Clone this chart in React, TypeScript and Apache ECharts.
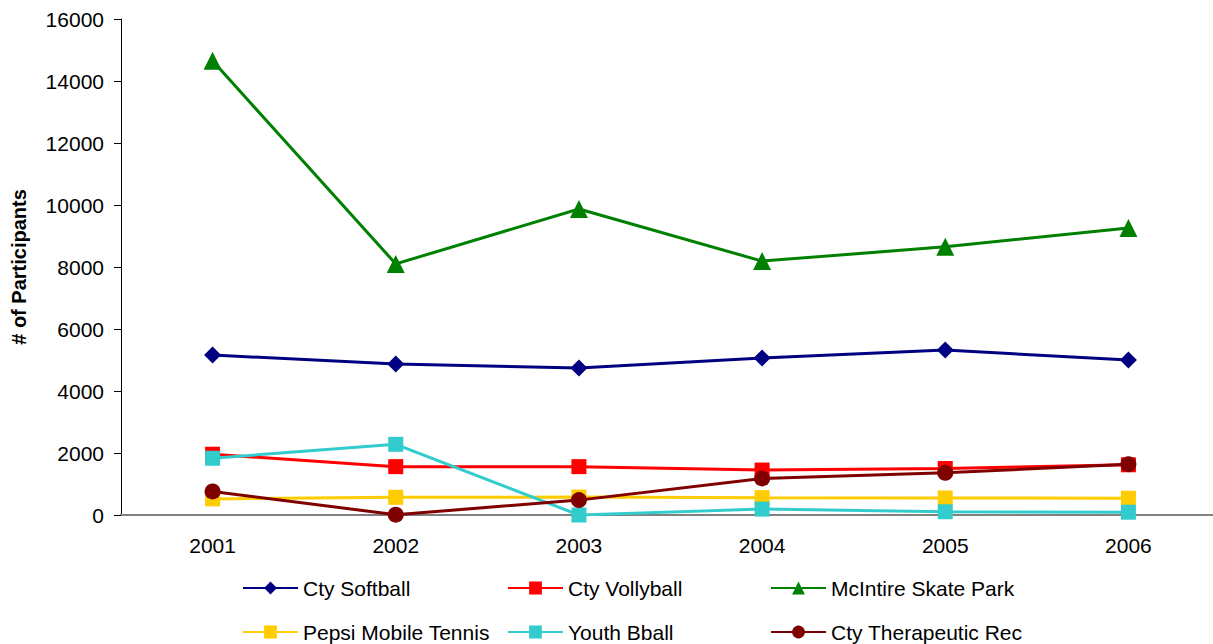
import React, { useEffect, useRef } from "react";
import * as echarts from "echarts";

const years = ["2001", "2002", "2003", "2004", "2005", "2006"];
const softball = [5160, 4870, 4740, 5065, 5320, 5000];
const volleyball = [1960, 1560, 1560, 1450, 1500, 1620];
const skatePark = [14650, 8100, 9870, 8190, 8650, 9260];
const pepsiTennis = [520, 570, 580, 560, 550, 540];
const youthBball = [1830, 2280, 0, 190, 105, 90];
const therapeutic = [760, 10, 480, 1180, 1360, 1640];

const names = [
  "Cty Softball",
  "Cty Vollyball",
  "McIntire Skate Park",
  "Pepsi Mobile Tennis",
  "Youth Bball",
  "Cty Therapeutic Rec",
];
const colors = ["#000080", "#FF0000", "#008000", "#FFCC00", "#33CCCC", "#800000"];
const symbols = ["diamond", "rect", "triangle", "rect", "rect", "circle"];
const sizes = [17, 15, 18, 15, 15, 16];
const dataSets = [softball, volleyball, skatePark, pepsiTennis, youthBball, therapeutic];

export default function App() {
  const ref = useRef<HTMLDivElement>(null);
  useEffect(() => {
    if (!ref.current) return;
    const chart = echarts.init(ref.current, null, { renderer: "svg" });
    const font = "Liberation Sans, Arial, sans-serif";
    const legendBase = (left: number, data: string[]) => ({
      orient: "vertical",
      left,
      top: 577,
      itemWidth: 55,
      itemHeight: 16,
      itemGap: 22,
      textStyle: { fontSize: 21, fontFamily: font, color: "#000", lineHeight: 22, padding: [0, 0, 0, 0] },
      data,
      padding: 0,
    });
    chart.setOption({
      animation: false,
      backgroundColor: "#fff",
      grid: {
        left: 121,
        top: 19,
        width: 1099,
        bottom: 129,
        containLabel: false,
        outerBoundsMode: "none",
      },
      legend: [
        { ...legendBase(242, [names[0], names[3]]) },
        { ...legendBase(507, [names[1], names[4]]) },
        { ...legendBase(770, [names[2], names[5]]) },
      ],
      xAxis: {
        type: "category",
        data: years,
        boundaryGap: true,
        axisLine: { lineStyle: { color: "#808080", width: 2 } },
        axisTick: { show: false },
        axisLabel: { fontSize: 21, fontFamily: font, color: "#000", margin: 20 },
        splitLine: { show: false },
      },
      yAxis: {
        type: "value",
        min: 0,
        max: 16000,
        interval: 2000,
        name: "# of Participants",
        nameLocation: "middle",
        nameGap: 92,
        nameRotate: 90,
        nameTextStyle: { fontSize: 20, fontWeight: "bold", fontFamily: font, color: "#000" },
        axisLine: { show: true, lineStyle: { color: "#000", width: 1 } },
        axisTick: { show: true, length: 7, lineStyle: { color: "#000" } },
        axisLabel: {
          fontSize: 21,
          fontFamily: font,
          color: "#000",
          margin: 17,
          formatter: (v: number) => String(v),
        },
        splitLine: { show: false },
      },
      series: names.map((n, i) => ({
        name: n,
        type: "line",
        data: dataSets[i],
        symbol: symbols[i],
        symbolSize: sizes[i],
        showAllSymbol: true,
        lineStyle: { color: colors[i], width: 3 },
        itemStyle: { color: colors[i], borderWidth: 0 },
        z: 2 + i,
      })),
    });
    return () => chart.dispose();
  }, []);
  return (
    <div
      ref={ref}
      style={{ position: "fixed", left: 0, top: 0, width: 1213, height: 644 }}
    />
  );
}
